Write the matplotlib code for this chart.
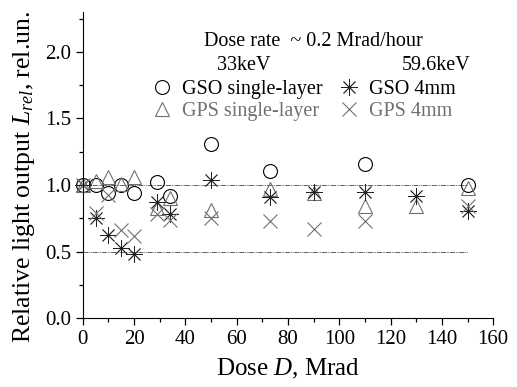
import matplotlib
matplotlib.use("Agg")
import matplotlib.pyplot as plt
from matplotlib.ticker import MultipleLocator

plt.rcParams['font.family'] = ['Liberation Serif', 'DejaVu Serif']
plt.rcParams['mathtext.fontset'] = 'custom'
plt.rcParams['mathtext.rm'] = 'Liberation Serif'
plt.rcParams['mathtext.it'] = 'Liberation Serif:italic'

# data
gso_sl_dose = [0, 5, 10, 15, 20, 29, 34, 50, 73, 110, 150]
gso_sl_L = [1.0, 1.0, 0.94, 1.0, 0.94, 1.02, 0.92, 1.31, 1.105, 1.16, 1.0]

gps_sl_dose = [0, 5, 10, 15, 20, 29, 34, 50, 73, 90, 110, 130, 150]
gps_sl_L = [1.0, 1.03, 1.06, 1.01, 1.06, 0.83, 0.9, 0.81, 0.97, 0.94, 0.84, 0.84, 0.98]

gso_4_dose = [0, 5, 10, 15, 20, 29, 34, 50, 73, 90, 110, 130, 150]
gso_4_L = [1.0, 0.75, 0.624, 0.53, 0.479, 0.875, 0.78, 1.04, 0.91, 0.95, 0.95, 0.92, 0.807]

gps_4_dose = [0, 5, 10, 15, 20, 29, 34, 50, 73, 90, 110, 150]
gps_4_L = [1.0, 0.79, 0.925, 0.66, 0.62, 0.78, 0.74, 0.75, 0.73, 0.667, 0.73, 0.84]

ref_levels = [1.0, 0.5]
ref_span = [0, 150]

grey = '#707070'

fig = plt.figure(figsize=(5.17, 3.87), dpi=100)
ax = fig.add_axes([0.160, 0.178, 0.794, 0.791])

for lev in ref_levels:
    ax.plot(ref_span, [lev, lev], color='#444444', lw=0.6, ls=(0, (6, 1, 1, 1, 1, 1)))

h1, = ax.plot(gso_sl_dose, gso_sl_L, ls='none', marker='o', ms=10, mfc='none',
              mec='black', mew=0.8, clip_on=False, label='GSO single-layer')
h2, = ax.plot(gps_sl_dose, gps_sl_L, ls='none', marker='^', ms=10, mfc='none',
              mec=grey, mew=0.8, clip_on=False, label='GPS single-layer')
h3, = ax.plot(gso_4_dose, gso_4_L, ls='none', marker=(8, 2, 0), ms=12,
              mec='#222222', mew=0.6, clip_on=False, label='GSO 4mm')
h4, = ax.plot(gps_4_dose, gps_4_L, ls='none', marker='x', ms=10,
              mec=grey, mew=0.8, clip_on=False, label='GPS 4mm')

ax.set_xlim(0, 160)
ax.set_ylim(0, 2.3)
ax.xaxis.set_major_locator(MultipleLocator(20))
ax.xaxis.set_minor_locator(MultipleLocator(10))
ax.yaxis.set_major_locator(MultipleLocator(0.5))
ax.yaxis.set_minor_locator(MultipleLocator(0.25))
ax.spines['top'].set_visible(False)
ax.spines['right'].set_visible(False)
ax.tick_params(which='major', direction='out', length=5, width=0.9, labelsize=15)
ax.tick_params(which='minor', direction='out', length=3, width=0.9)
ax.set_yticklabels(['%.1f' % v for v in ax.get_yticks()])

ax.set_xlabel('Dose $\\mathit{D}$, Mrad', fontsize=18, labelpad=6)
ax.set_ylabel('Relative light output $\\mathit{L}_{\\mathit{rel}}$, rel.un.', fontsize=18.5)
ax.yaxis.set_label_coords(-0.112, 0.46)

leg = ax.legend(handles=[h1, h2, h3, h4], ncol=2, frameon=False, fontsize=14.5,
                loc='upper left', bbox_to_anchor=(152 / 517, 1 - 80 / 387),
                bbox_transform=fig.transFigure, handlelength=1.0, handletextpad=0.5,
                columnspacing=0.8, labelspacing=0.15, borderpad=0, borderaxespad=0,
                labelcolor=['black', grey, 'black', grey])

fig.text(313 / 517, 1 - 41 / 387, 'Dose rate  ~ 0.2 Mrad/hour', fontsize=14.5,
         ha='center', va='center')
fig.text(244 / 517, 1 - 66 / 387, '33keV', fontsize=14.5, ha='center', va='center')
fig.text(436 / 517, 1 - 66 / 387, '59.6keV', fontsize=14.5, ha='center', va='center')

fig.savefig('out.png', dpi=100)
